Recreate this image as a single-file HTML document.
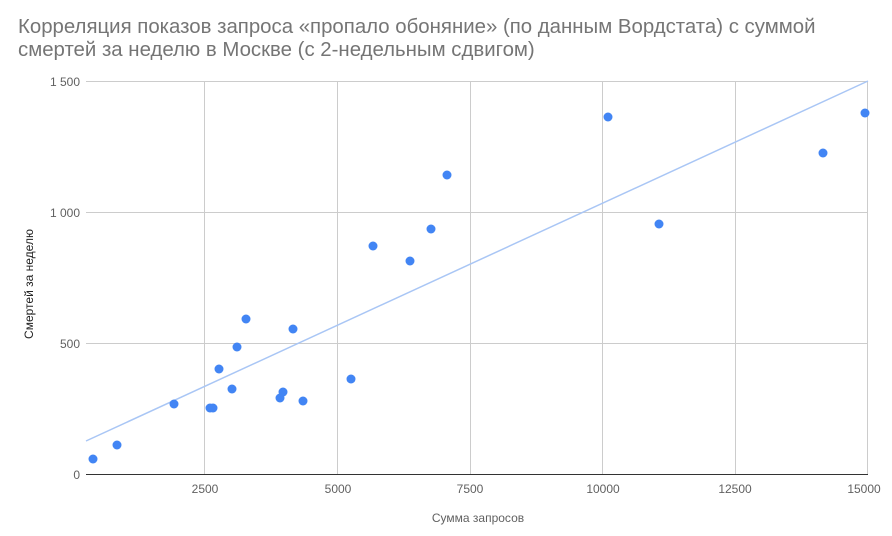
<!DOCTYPE html>
<html><head><meta charset="utf-8"><style>
body{margin:0;background:#fff;}
svg{display:block;font-family:"Liberation Sans",Arial,sans-serif;}
</style></head><body>
<svg width="892" height="536" viewBox="0 0 892 536">
<rect width="892" height="536" fill="#fff"/>
<text x="18" y="33" font-size="20.4" fill="#757575">Корреляция показов запроса «пропало обоняние» (по данным Вордстата) с суммой</text>
<text x="18" y="56" font-size="20.4" fill="#757575">смертей за неделю в Москве (с 2-недельным сдвигом)</text>
<g stroke="#cccccc" stroke-width="1">
<line x1="86" y1="81.5" x2="868" y2="81.5"/>
<line x1="86" y1="212.5" x2="868" y2="212.5"/>
<line x1="86" y1="343.5" x2="868" y2="343.5"/>
<line x1="204.5" y1="81" x2="204.5" y2="474"/>
<line x1="337.5" y1="81" x2="337.5" y2="474"/>
<line x1="470.5" y1="81" x2="470.5" y2="474"/>
<line x1="602.5" y1="81" x2="602.5" y2="474"/>
<line x1="735.5" y1="81" x2="735.5" y2="474"/>
<line x1="867.5" y1="81" x2="867.5" y2="474"/>
</g>
<line x1="86" y1="474.5" x2="868" y2="474.5" stroke="#333" stroke-width="1"/>
<g font-size="12" fill="#616161" text-anchor="end">
<text x="80" y="86">1 500</text>
<text x="80" y="217">1 000</text>
<text x="80" y="348">500</text>
<text x="80" y="479">0</text>
</g>
<g font-size="12" fill="#616161" text-anchor="middle">
<text x="205" y="493">2500</text>
<text x="338" y="493">5000</text>
<text x="470" y="493">7500</text>
<text x="603" y="493">10000</text>
<text x="735" y="493">12500</text>
<text x="864" y="493">15000</text>
<text x="478" y="522">Сумма запросов</text>
</g>
<text transform="translate(33,284) rotate(-90)" font-size="12" fill="#222" text-anchor="middle">Смертей за неделю</text>
<line x1="86" y1="441" x2="868" y2="81" stroke="#a9c6f5" stroke-width="1.5"/>
<g fill="#4285f4">
<circle cx="93" cy="459" r="4.5"/><circle cx="117" cy="445" r="4.5"/><circle cx="174" cy="404" r="4.5"/>
<circle cx="210" cy="408" r="4.5"/><circle cx="213" cy="408" r="4.5"/><circle cx="219" cy="369" r="4.5"/>
<circle cx="232" cy="389" r="4.5"/><circle cx="237" cy="347" r="4.5"/><circle cx="246" cy="319" r="4.5"/>
<circle cx="280" cy="398" r="4.5"/><circle cx="283" cy="392" r="4.5"/><circle cx="293" cy="329" r="4.5"/>
<circle cx="303" cy="401" r="4.5"/><circle cx="351" cy="379" r="4.5"/><circle cx="373" cy="246" r="4.5"/>
<circle cx="410" cy="261" r="4.5"/><circle cx="431" cy="229" r="4.5"/><circle cx="447" cy="175" r="4.5"/>
<circle cx="608" cy="117" r="4.5"/><circle cx="659" cy="224" r="4.5"/><circle cx="823" cy="153" r="4.5"/>
<circle cx="865" cy="113" r="4.5"/>
</g>
</svg>
</body></html>
